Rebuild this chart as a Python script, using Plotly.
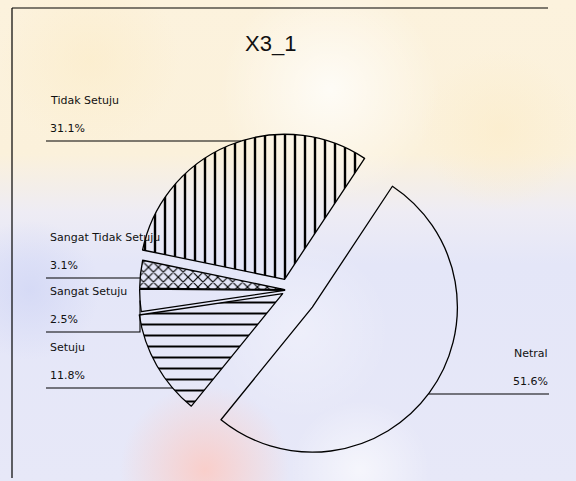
import math
import numpy as np
import plotly.graph_objects as go

W, H = 576, 481

# ---- data -------------------------------------------------------------
labels = ["Netral", "Tidak Setuju", "Sangat Tidak Setuju", "Sangat Setuju", "Setuju"]
values = [51.6, 31.1, 3.1, 2.5, 11.8]
pct_text = ["51.6%", "31.1%", "3.1%", "2.5%", "11.8%"]
title_text = "X3_1"

# ---- slice styling ----------------------------------------------------
pulls = [0.2, 0.08, 0.03, 0.03, 0.05]
pattern_shapes = ["", "|", "x", "", "-"]
pattern_sizes = [10, 10, 7, 10, 11]
pattern_solidity = [0.2, 0.24, 0.3, 0.2, 0.18]

# label blocks: y of the underline (px from top) and side of the chart
label_line_y = [394, 141, 278, 332, 388]
label_side = ["right", "left", "left", "left", "left"]
LEFT_X, RIGHT_X = 46, 549

# pie geometry in px; ROT is plotly's rotation (clockwise from 12 o'clock)
CX, CY, R = 289, 290, 145
ROT = 33.5
FONT = "Liberation Sans, Arial, sans-serif"
LABEL_FONT = "DejaVu Sans, Liberation Sans, sans-serif"

fig = go.Figure()

# ---- soft background wash -------------------------------------------
fig.add_trace(go.Scatter(
    x=[0, W, W, 0, 0], y=[0, 0, H, H, 0], mode="lines", line=dict(width=0),
    fill="toself", hoverinfo="skip", showlegend=False,
    fillgradient=dict(type="vertical", start=0, stop=H,
                      colorscale=[[0, "#fcf2dd"], [0.32, "#fbf1db"], [0.44, "#eeecf4"],
                                  [0.55, "#e4e6f8"], [1, "#e7e8f8"]])))


def soft_spot(cx, cy, rad, rgb, alpha):
    t = np.linspace(0, 2 * np.pi, 72)
    fig.add_trace(go.Scatter(
        x=cx + rad * np.cos(t), y=cy + rad * np.sin(t), mode="lines",
        line=dict(width=0), fill="toself", hoverinfo="skip", showlegend=False,
        fillgradient=dict(type="radial",
                          colorscale=[[0, f"rgba({rgb},{alpha})"], [1, f"rgba({rgb},0)"]])))


soft_spot(330, 90, 110, "255,255,255", 0.75)
soft_spot(90, 60, 90, "252,236,200", 0.6)
soft_spot(500, 130, 80, "252,236,200", 0.6)
soft_spot(30, 290, 70, "210,215,245", 0.8)
soft_spot(300, 330, 90, "255,255,255", 0.35)
soft_spot(205, 470, 85, "250,205,200", 0.95)
soft_spot(360, 470, 70, "255,255,255", 0.6)

# ---- pie --------------------------------------------------------------
half = R * (1 + max(pulls))
fig.add_trace(go.Pie(
    labels=labels, values=values, sort=False, direction="counterclockwise",
    rotation=ROT, pull=pulls, textinfo="none", hoverinfo="label+percent",
    showlegend=False,
    domain=dict(x=[(CX - half) / W, (CX + half) / W],
                y=[(H - CY - half) / H, (H - CY + half) / H]),
    marker=dict(colors=["rgba(0,0,0,0)"] * len(values),
                line=dict(color="black", width=1.3),
                pattern=dict(shape=pattern_shapes, size=pattern_sizes,
                             solidity=pattern_solidity, fgcolor="black",
                             bgcolor="rgba(0,0,0,0)", fillmode="replace"))))

# ---- leader lines and labels -------------------------------------------
# In counterclockwise mode the first slice spans clockwise from ROT, the
# rest follow counterclockwise. Work in math angles (ccw from 3 o'clock).
total = sum(values)
a = 90 - ROT - values[0] / total * 360
shapes = []
annotations = []
for i, v in enumerate(values):
    a0 = a
    a1 = a + v / total * 360
    a = a1
    mid = math.radians((a0 + a1) / 2)
    pcx = CX + pulls[i] * R * math.cos(mid)
    pcy = CY - pulls[i] * R * math.sin(mid)
    ly = label_line_y[i]
    s = (pcy - ly) / R
    path = None
    if abs(s) <= 1:
        dx = R * math.sqrt(1 - s * s)
        hx = pcx - dx if label_side[i] == "left" else pcx + dx
        th = math.degrees(math.atan2(pcy - ly, hx - pcx))
        if (th - a0) % 360 <= (a1 - a0):
            path = [(hx, ly)]
    if path is None:
        mx = pcx + R * math.cos(mid)
        my = pcy - R * math.sin(mid)
        path = [(mx, my), (mx, ly)]
    end_x = LEFT_X if label_side[i] == "left" else RIGHT_X
    path.append((end_x, ly))
    d = "M " + " L ".join(f"{px:.1f},{py:.1f}" for px, py in path)
    shapes.append(dict(type="path", path=d, xref="x", yref="y",
                       line=dict(color="black", width=1.1), layer="above"))

    tx = LEFT_X + 2 if label_side[i] == "left" else RIGHT_X + 1
    anchor = "left" if label_side[i] == "left" else "right"
    annotations.append(dict(x=tx, y=ly - 41, xref="x", yref="y", text=labels[i],
                            showarrow=False, xanchor=anchor, yanchor="middle",
                            font=dict(family=LABEL_FONT, size=11, color="#111")))
    annotations.append(dict(x=tx, y=ly - 13, xref="x", yref="y", text=pct_text[i],
                            showarrow=False, xanchor=anchor, yanchor="middle",
                            font=dict(family=LABEL_FONT, size=11, color="#111")))

annotations.append(dict(x=270, y=43, xref="x", yref="y", text=title_text, showarrow=False,
                        xanchor="center", yanchor="middle",
                        font=dict(family=FONT, size=22, color="#111")))

# frame
shapes.append(dict(type="line", x0=12, x1=12, y0=8, y1=478, xref="x", yref="y",
                   line=dict(color="black", width=1.2), layer="above"))
shapes.append(dict(type="line", x0=12, x1=548, y0=8, y1=8, xref="x", yref="y",
                   line=dict(color="black", width=1.2), layer="above"))

fig.update_layout(
    width=W, height=H, margin=dict(l=0, r=0, t=0, b=0),
    paper_bgcolor="white", plot_bgcolor="white", showlegend=False,
    xaxis=dict(range=[0, W], visible=False, domain=[0, 1], fixedrange=True),
    yaxis=dict(range=[H, 0], visible=False, domain=[0, 1], fixedrange=True),
    shapes=shapes, annotations=annotations,
)

fig.write_html("out.html")
